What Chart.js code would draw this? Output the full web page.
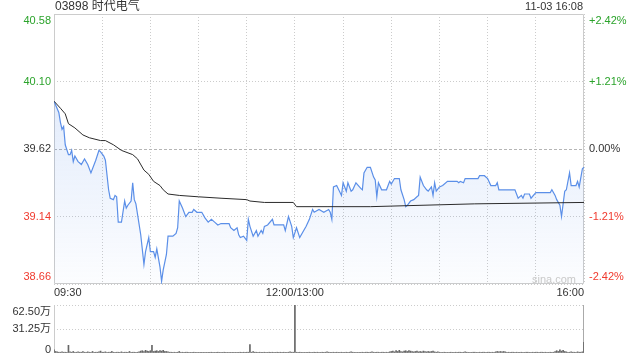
<!DOCTYPE html>
<html>
<head>
<meta charset="utf-8">
<title>03898 时代电气</title>
<script src="https://cdn.jsdelivr.net/npm/chart.js@4.4.0/dist/chart.umd.min.js"></script>
<style>
  html, body { margin: 0; padding: 0; background: #fff; }
  #wrap { position: relative; width: 640px; height: 360px; overflow: hidden;
          font-family: "Liberation Sans", Arial, "Noto Sans CJK SC", sans-serif; color: #333; }
  #wrap canvas { position: absolute; left: 0; }
  #price { top: 0; }
  #vol { top: 300px; }
  .txt { position: absolute; white-space: nowrap; line-height: 14px; }
  #name { left: 55px; top: -1px; font-size: 12px; }
  #stamp { right: 57px; top: -1px; font-size: 11px; }
  #mark { left: 532px; top: 272px; font-size: 11px; color: #c9c9c9; }
</style>
</head>
<body>
<div id="wrap">
  <canvas id="price" width="640" height="300"></canvas>
  <canvas id="vol" width="640" height="60"></canvas>
  <div class="txt" id="name">03898 时代电气</div>
  <div class="txt" id="stamp">11-03 16:08</div>
  <div class="txt" id="mark">sina.com</div>
</div>
<script>
(function () {
  "use strict";

  // Values (minutes after 09:30, lunch break removed)
  const prevClose = 39.62;

  const priceMinutes = [
    0, 3, 4, 5, 6, 7, 9, 10, 11, 12,
    13, 15, 16, 17, 19, 21, 23, 26, 28, 29,
    31, 32, 34, 35, 37, 38, 39, 40, 42, 44,
    45, 46, 48, 49, 50, 51, 54, 56, 57, 59,
    60, 62, 63, 64, 66, 67, 68, 70, 71, 74,
    76, 77, 78, 80, 82, 84, 86, 87, 89, 92,
    94, 96, 98, 100, 102, 104, 109, 110, 112, 114,
    115, 116, 118, 120, 121, 122, 124, 126, 127, 129,
    130, 131, 133, 136, 137, 143, 144, 146, 148, 149,
    151, 153, 157, 159, 161, 162, 165, 168, 171, 172,
    173, 174, 176, 179, 180, 182, 183, 185, 186, 188,
    191, 192, 193, 195, 197, 199, 200, 201, 202, 204,
    207, 209, 210, 212, 215, 216, 218, 219, 220, 222,
    224, 226, 227, 228, 230, 232, 233, 235, 236, 237,
    238, 240, 242, 245, 251, 252, 253, 255, 256, 264,
    265, 268, 270, 272, 275, 276, 277, 287, 289, 291,
    292, 293, 296, 297, 300, 309, 310, 312, 313, 315,
    316, 317, 318, 319, 321, 322, 325, 326, 327, 329,
    330
  ];
  const prices = [
    39.96, 39.88, 39.81, 39.76, 39.78, 39.65, 39.58, 39.58, 39.61, 39.53,
    39.57, 39.53, 39.52, 39.51, 39.55, 39.51, 39.45, 39.54, 39.61, 39.60,
    39.57, 39.54, 39.33, 39.27, 39.26, 39.29, 39.28, 39.10, 39.10, 39.25,
    39.20, 39.22, 39.25, 39.38, 39.26, 39.23, 39.01, 38.80, 38.89, 38.99,
    38.89, 38.89, 38.85, 38.91, 38.78, 38.68, 38.76, 38.87, 39.00, 39.00,
    39.02, 39.06, 39.25, 39.20, 39.14, 39.17, 39.17, 39.19, 39.17, 39.17,
    39.13, 39.10, 39.12, 39.10, 39.08, 39.09, 39.09, 39.06, 39.04, 39.06,
    39.01, 38.99, 39.00, 38.97, 39.12, 39.07, 39.00, 39.04, 39.00, 39.04,
    39.02, 39.07, 39.08, 39.12, 39.08, 39.08, 39.04, 39.14, 39.07, 38.99,
    39.06, 38.99, 39.07, 39.12, 39.19, 39.17, 39.19, 39.17, 39.19, 39.17,
    39.12, 39.35, 39.36, 39.29, 39.38, 39.32, 39.38, 39.32, 39.33, 39.38,
    39.34, 39.33, 39.45, 39.49, 39.49, 39.42, 39.40, 39.28, 39.38, 39.33,
    39.33, 39.39, 39.37, 39.41, 39.41, 39.33, 39.26, 39.21, 39.22, 39.25,
    39.26, 39.28, 39.29, 39.42, 39.36, 39.33, 39.32, 39.35, 39.29, 39.38,
    39.32, 39.35, 39.36, 39.39, 39.39, 39.38, 39.39, 39.38, 39.41, 39.41,
    39.43, 39.43, 39.41, 39.36, 39.36, 39.38, 39.33, 39.33, 39.27, 39.29,
    39.27, 39.30, 39.30, 39.27, 39.31, 39.31, 39.33, 39.29, 39.26, 39.22,
    39.14, 39.23, 39.32, 39.33, 39.45, 39.36, 39.36, 39.39, 39.35, 39.48,
    39.49
  ];

  const avgMinutes = [
    0, 4, 7, 9, 13, 18, 22, 29, 32, 37,
    42, 49, 52, 56, 59, 62, 66, 68, 71, 78,
    90, 104, 120, 122, 131, 149, 151, 170, 197, 262,
    330
  ];
  const avgPrices = [
    39.96, 39.91, 39.87, 39.80, 39.77, 39.72, 39.70, 39.68, 39.68, 39.65,
    39.61, 39.58, 39.55, 39.47, 39.44, 39.39, 39.36, 39.33, 39.30, 39.29,
    39.28, 39.27, 39.26, 39.25, 39.24, 39.24, 39.21, 39.21, 39.21, 39.23,
    39.24
  ];

  // volume per minute, in 万
  const volumes = [
    4, 2, 1.5, 1, 1, 1.5, 1, 1, 1, 10,
    1.5, 1, 2, 1, 1, 1.5, 1, 1, 2, 1,
    1, 1.5, 1, 1, 2, 1, 1, 1, 1.5, 2.5,
    1, 1, 1.5, 1, 1, 1, 2, 1, 1, 1,
    1, 1, 1.5, 1, 1, 1, 1, 2, 1, 1,
    1, 1, 1, 1.5, 2.5, 3, 2, 3.5, 2.5, 2,
    3, 10, 2, 2.5, 3, 2, 3, 2.5, 3.5, 2,
    2, 1.5, 1, 1, 1, 1, 1, 1, 2, 1,
    1, 1, 1, 1, 1, 0.8, 0.8, 1, 0.8, 0.8,
    0.8, 1, 0.8, 0.8, 1, 0.8, 0.8, 0.8, 1, 0.8,
    0.8, 0.8, 1, 0.8, 0.8, 0.8, 1, 0.8, 0.8, 1,
    0.8, 0.8, 1, 0.8, 0.8, 0.8, 1, 0.8, 1, 0.8,
    1, 1, 11, 1, 2, 1, 1, 0.8, 1, 0.8,
    0.8, 1, 0.8, 0.8, 1, 0.8, 1, 0.8, 0.8, 1,
    0.8, 1, 0.8, 1, 0.8, 0.8, 1, 1.5, 1, 1,
    62, 1, 0.8, 1, 0.8, 1, 0.8, 1, 0.8, 1,
    1, 0.8, 1, 0.8, 1, 1, 0.8, 1, 0.8, 1,
    1.5, 1, 0.8, 1, 1, 0.8, 1, 0.8, 1, 1,
    1, 0.8, 1, 0.8, 1, 1.5, 1, 0.8, 1, 0.8,
    1, 0.8, 1, 0.8, 1, 1, 0.8, 1, 1.5, 1,
    0.8, 1, 1, 0.8, 1, 1, 0.8, 1, 1, 1.5,
    2, 2.5, 1.5, 3, 2, 3.5, 2, 1.5, 2.5, 3,
    2, 3, 2.5, 2, 1.5, 2, 2.5, 1.5, 2, 1.5,
    2.5, 2, 1.5, 2, 1.5, 2, 2.5, 1.5, 1, 1.5,
    1, 1, 0.8, 1, 1, 0.8, 1, 1, 0.8, 1,
    1, 0.8, 1, 1, 0.8, 1, 1.5, 1, 0.8, 1,
    0.8, 1, 1, 0.8, 1, 1, 0.8, 1, 1, 0.8,
    1, 1, 0.8, 1, 1, 1.5, 2, 1.5, 2, 1.5,
    2, 1.5, 1, 1, 0.8, 1, 1, 0.8, 1, 1,
    0.8, 1, 1, 0.8, 1, 1, 0.8, 1, 1, 0.8,
    1, 1, 0.8, 1, 1, 0.8, 1, 1, 0.8, 1,
    1, 1, 2, 3, 2, 4, 2.5, 3.5, 2, 1.5,
    1, 1, 1.5, 1, 1, 1, 1.5, 1, 1, 1.5,
    14
  ];

  const priceTicks = [38.66, 39.14, 39.62, 40.10, 40.58];
  const pctTicks = [-2.42, -1.21, 0, 1.21, 2.42];
  const volTicks = [0, 31.25, 62.5];
  const timeGrid = [0, 30, 60, 90, 120, 150, 180, 210, 240, 270, 300, 330];
  const labelMinutes = [0, 150, 330];
  const labelTexts = ['09:30', '12:00/13:00', '16:00'];

  // Colors
  const upColor = '#2ba32b';
  const downColor = '#f03a2e';
  const flatColor = '#333333';
  const gridColor = '#cccccc';
  const lineColor = '#5b8fe8';

  Chart.defaults.font.family = '"Liberation Sans", Arial, "Noto Sans CJK SC", sans-serif';
  Chart.defaults.font.size = 11;
  Chart.defaults.color = flatColor;

  function tickColor(v, ref) {
    if (v > ref + 1e-9) return upColor;
    if (v < ref - 1e-9) return downColor;
    return flatColor;
  }

  // keep the first / last label inside the plot box
  function edgeLabel(text, i, n) {
    if (i === 0) return [text, ''];
    if (i === n - 1) return ['', text];
    return text;
  }

  function fixTicks(list) {
    return function (scale) {
      scale.ticks = list.map(function (v) { return { value: v }; });
    };
  }

  // fixed axis size, no extra padding for the edge labels
  function fixSize(w, h) {
    return function (s) {
      if (w !== null) s.width = w;
      if (h !== null) s.height = h;
      s.paddingTop = 0;
      s.paddingBottom = 0;
      s.paddingLeft = 0;
      s.paddingRight = 0;
    };
  }

  const framePlugin = {
    id: 'frame',
    beforeDatasetsDraw(chart, args, opts) {
      const a = chart.chartArea;
      const ctx = chart.ctx;
      ctx.save();
      ctx.lineWidth = 1;
      ctx.strokeStyle = opts.color;
      ctx.beginPath();
      if (opts.full) {
        ctx.rect(a.left + 0.5, a.top + 0.5, a.right - a.left - 1, a.bottom - a.top - 1);
      } else {
        ctx.moveTo(a.left + 0.5, a.top);
        ctx.lineTo(a.left + 0.5, a.bottom);
      }
      ctx.stroke();
      if (opts.rightColor) {
        ctx.strokeStyle = opts.rightColor;
        ctx.beginPath();
        ctx.moveTo(a.right - 0.5, a.top);
        ctx.lineTo(a.right - 0.5, a.bottom);
        ctx.stroke();
      }
      ctx.restore();
    }
  };

  /**
   * ------------------------------------------------------------------------
   *  Price chart
   * ------------------------------------------------------------------------
   */
  new Chart(document.getElementById('price'), {
    type: 'line',
    data: {
      datasets: [{
        label: 'avg',
        data: avgMinutes.map(function (m, i) { return { x: m, y: avgPrices[i] }; }),
        borderColor: '#2b2b2b',
        borderWidth: 1,
        pointRadius: 0,
        tension: 0,
        fill: false
      }, {
        label: 'price',
        data: priceMinutes.map(function (m, i) { return { x: m, y: prices[i] }; }),
        borderColor: lineColor,
        borderWidth: 1.2,
        pointRadius: 0,
        tension: 0,
        fill: 'start',
        backgroundColor: function (context) {
          const area = context.chart.chartArea;
          if (!area) return 'rgba(91,143,232,0.1)';
          const g = context.chart.ctx.createLinearGradient(0, area.top, 0, area.bottom);
          g.addColorStop(0, 'rgba(91,143,232,0.24)');
          g.addColorStop(1, 'rgba(91,143,232,0.02)');
          return g;
        }
      }]
    },
    plugins: [framePlugin],
    options: {
      responsive: false,
      animation: false,
      layout: { padding: { top: 14, left: 0, right: 0, bottom: 0 } },
      plugins: {
        legend: { display: false },
        tooltip: { enabled: false },
        frame: { color: gridColor, full: true }
      },
      scales: {
        x: {
          type: 'linear',
          min: 0,
          max: 330,
          afterBuildTicks: fixTicks(timeGrid),
          afterFit: fixSize(null, 16),
          grid: { color: gridColor, drawTicks: false },
          border: { display: false, dash: [1, 2] },
          ticks: {
            padding: 2,
            align: 'inner',
            autoSkip: false,
            maxRotation: 0,
            color: flatColor,
            callback: function (v) {
              const k = labelMinutes.indexOf(v);
              return k < 0 ? '' : labelTexts[k];
            }
          }
        },
        y: {
          type: 'linear',
          position: 'left',
          min: priceTicks[0],
          max: priceTicks[priceTicks.length - 1],
          afterBuildTicks: fixTicks(priceTicks),
          afterFit: fixSize(54, null),
          grid: {
            drawTicks: false,
            color: function (ctx) {
              return ctx.tick && ctx.tick.value === prevClose ? '#b5b5b5' : gridColor;
            }
          },
          border: {
            display: false,
            dash: function (ctx) {
              return ctx.tick && ctx.tick.value === prevClose ? [3, 2] : [1, 2];
            }
          },
          ticks: {
            padding: 3,
            autoSkip: false,
            color: function (ctx) { return tickColor(ctx.tick.value, prevClose); },
            callback: function (v, i, arr) { return edgeLabel(v.toFixed(2), i, arr.length); }
          }
        },
        pct: {
          type: 'linear',
          position: 'right',
          min: pctTicks[0],
          max: pctTicks[pctTicks.length - 1],
          afterBuildTicks: fixTicks(pctTicks),
          afterFit: fixSize(56, null),
          grid: { display: false, drawTicks: false },
          border: { display: false },
          ticks: {
            padding: 5,
            autoSkip: false,
            color: function (ctx) { return tickColor(ctx.tick.value, 0); },
            callback: function (v, i, arr) {
              return edgeLabel((v > 0 ? '+' : '') + v.toFixed(2) + '%', i, arr.length);
            }
          }
        }
      }
    }
  });

  /**
   * ------------------------------------------------------------------------
   *  Volume chart
   * ------------------------------------------------------------------------
   */
  new Chart(document.getElementById('vol'), {
    type: 'bar',
    data: {
      datasets: [{
        data: volumes.map(function (v, i) { return { x: i, y: v }; }),
        backgroundColor: '#666666',
        borderWidth: 0,
        barThickness: 1
      }]
    },
    plugins: [framePlugin],
    options: {
      responsive: false,
      animation: false,
      layout: { padding: { top: 5, left: 0, right: 56, bottom: 7 } },
      plugins: {
        legend: { display: false },
        tooltip: { enabled: false },
        frame: { color: gridColor, full: false, rightColor: '#aaaaaa' }
      },
      scales: {
        x: {
          type: 'linear',
          min: 0,
          max: 330,
          offset: false,
          display: false,
          grid: { offset: false }
        },
        y: {
          min: volTicks[0],
          max: volTicks[volTicks.length - 1],
          afterBuildTicks: fixTicks(volTicks),
          afterFit: fixSize(54, null),
          grid: {
            drawTicks: false,
            color: function (ctx) {
              return ctx.tick && ctx.tick.value === 0 ? 'rgba(0,0,0,0)' : gridColor;
            }
          },
          border: { display: false, dash: [1, 2] },
          ticks: {
            padding: 3,
            autoSkip: false,
            color: flatColor,
            font: function (ctx) {
              return { size: 11, lineHeight: ctx.index === 0 ? '7px' : '13px' };
            },
            callback: function (v, i, arr) {
              const text = v === 0 ? '0' : v.toFixed(2) + '万';
              return edgeLabel(text, i, arr.length);
            }
          }
        }
      }
    }
  });

})();
</script>
</body>
</html>
